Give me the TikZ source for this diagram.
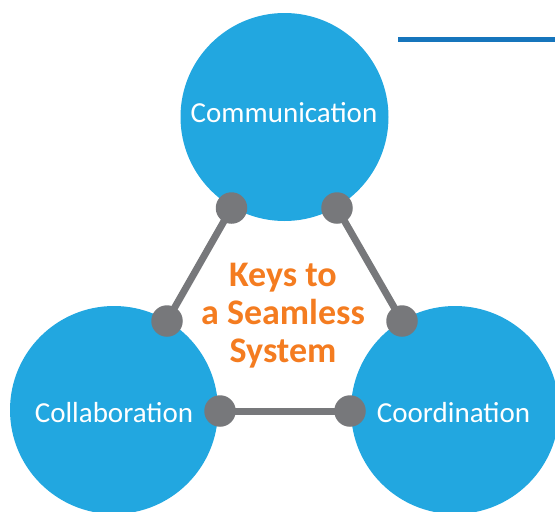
\documentclass[tikz,border=0pt]{standalone}
\usepackage{fontspec}
\setmainfont{Carlito}
\definecolor{circblue}{RGB}{34,167,224}
\definecolor{lineblue}{RGB}{22,117,188}
\definecolor{dotgray}{RGB}{119,120,123}
\definecolor{keyorange}{RGB}{244,124,32}
\begin{document}
\begin{tikzpicture}[x=1pt,y=-1pt,
  bigcirc/.style={circle,fill=circblue,minimum size=208pt,inner sep=0pt},
  label29/.style={text=white,font=\fontsize{29}{34}\selectfont,inner sep=0pt},
  joint/.style={circle,fill=dotgray,minimum size=31.5pt,inner sep=0pt},
  link/.style={draw=dotgray,line width=7pt},
  title/.style={text=keyorange,font=\fontsize{36}{38}\selectfont\bfseries,align=center}]
\useasboundingbox (0,0) rectangle (555,512);
\node[bigcirc] (comm) at (284.5,117) {};
\node[bigcirc] (coll) at (114,410) {};
\node[bigcirc] (coor) at (455,410) {};
\node[label29] (commt) at (284,113) {Communication};
\node[label29] (collt) at (114,413) {Collaboration};
\node[label29] (coort) at (453.5,413) {Coordination};
\coordinate (p1) at (231.5,208);
\coordinate (p2) at (337,208);
\coordinate (p3) at (167,321);
\coordinate (p4) at (402,321);
\coordinate (p5) at (220,411);
\coordinate (p6) at (350,411);
\draw[link] (p1) -- (p3);
\draw[link] (p2) -- (p4);
\draw[link] (p5) -- (p6);
\node[joint] (d1) at (p1) {};
\node[joint] (d2) at (p2) {};
\node[joint] (d3) at (p3) {};
\node[joint] (d4) at (p4) {};
\node[joint] (d5) at (p5) {};
\node[joint] (d6) at (p6) {};
\node[title] (keys) at (283,316) {Keys to\\a Seamless\\System};
\coordinate (ls) at (398,39.7);
\coordinate (le) at (555,39.7);
\draw[lineblue,line width=5pt] (ls) -- (le);
\end{tikzpicture}
\end{document}
